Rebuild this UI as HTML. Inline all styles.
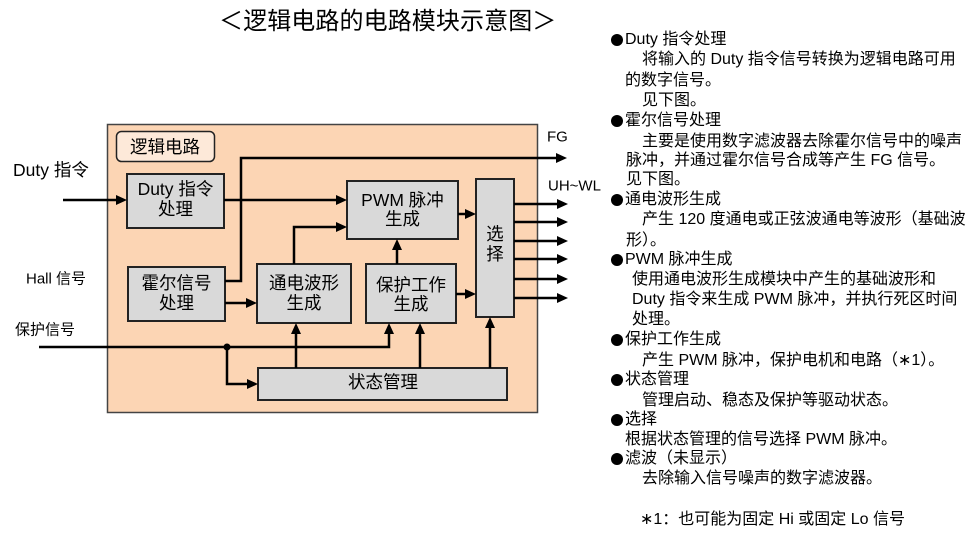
<!DOCTYPE html>
<html><head><meta charset="utf-8">
<style>
html,body{margin:0;padding:0;background:#fff;}
body{width:972px;height:546px;position:relative;overflow:hidden;font-family:"Liberation Sans","Noto Sans CJK SC",sans-serif;color:#000;}
.t{position:absolute;font-size:16px;line-height:20px;white-space:nowrap;letter-spacing:0;}
.b{position:absolute;width:12px;height:12px;border-radius:50%;background:#000;}
#title{position:absolute;left:219px;top:6px;font-size:24px;line-height:32px;letter-spacing:0.1px;white-space:nowrap;}
svg{position:absolute;left:0;top:0;}
</style></head><body>
<div id="title">＜逻辑电路的电路模块示意图＞</div>

<svg width="972" height="546" viewBox="0 0 972 546" xmlns="http://www.w3.org/2000/svg" font-family="Liberation Sans, Noto Sans CJK SC, sans-serif">
  <!-- outer box -->
  <rect x="107.5" y="124.5" width="430" height="288" fill="#fcd5b4" stroke="#444" stroke-width="1.5"/>
  <!-- label -->
  <rect x="116.5" y="131.5" width="98" height="30" rx="5" fill="#fde9d9" stroke="#222" stroke-width="1.5"/>
  <text x="165" y="147" font-size="17.5" text-anchor="middle" dominant-baseline="central">逻辑电路</text>

  <g fill="#d9d9d9" stroke="#222" stroke-width="2">
    <rect x="127" y="174" width="97" height="54"/>
    <rect x="128" y="267" width="97" height="54"/>
    <rect x="257" y="264" width="94" height="59"/>
    <rect x="347" y="181" width="111" height="58"/>
    <rect x="366" y="264" width="90" height="59"/>
    <rect x="476" y="179" width="38" height="138"/>
    <rect x="258" y="368" width="249" height="32"/>
  </g>

  <g font-size="17.5" text-anchor="middle" dominant-baseline="central">
    <text x="175.5" y="189">Duty 指令</text>
    <text x="175.5" y="209">处理</text>
    <text x="176.5" y="283">霍尔信号</text>
    <text x="176.5" y="303">处理</text>
    <text x="304" y="283">通电波形</text>
    <text x="304" y="303">生成</text>
    <text x="402.5" y="200">PWM 脉冲</text>
    <text x="402.5" y="219">生成</text>
    <text x="411" y="285">保护工作</text>
    <text x="411" y="304">生成</text>
    <text x="495" y="234">选</text>
    <text x="495" y="254">择</text>
    <text x="383" y="382">状态管理</text>
  </g>

  <!-- external labels -->
  <text x="13" y="170" font-size="17.5" dominant-baseline="central">Duty 指令</text>
  <text x="26" y="279" font-size="15" dominant-baseline="central">Hall 信号</text>
  <text x="15" y="330" font-size="15" dominant-baseline="central">保护信号</text>
  <text x="547" y="137" font-size="15" dominant-baseline="central">FG</text>
  <text x="548" y="186" font-size="15" dominant-baseline="central">UH~WL</text>

  <!-- lines -->
  <g fill="none" stroke="#000" stroke-width="2.5">
    <polyline points="63,200 118,200"/>
    <polyline points="224,200 338,200"/>
    <polyline points="225,281 241,281 241,158 558,158"/>
    <polyline points="225,303 248,303"/>
    <polyline points="294,264 294,227 338,227"/>
    <polyline points="397,264 397,248"/>
    <polyline points="458,214 467,214"/>
    <polyline points="456,294 467,294"/>
    <polyline points="514,204 559,204"/>
    <polyline points="514,222 559,222"/>
    <polyline points="514,241 559,241"/>
    <polyline points="514,259 559,259"/>
    <polyline points="514,279 559,279"/>
    <polyline points="514,298 559,298"/>
    <polyline points="39,347 389,347 389,332"/>
    <polyline points="227,347 227,384 249,384"/>
    <polyline points="296,368 296,332"/>
    <polyline points="420,368 420,332"/>
    <polyline points="490,368 490,326"/>
  </g>
  <circle cx="227" cy="347" r="3.5" fill="#000"/>

  <!-- arrowheads -->
  <g fill="#000">
    <polygon points="127,200 116,195 116,205"/>
    <polygon points="347,200 336,195 336,205"/>
    <polygon points="567,158 556,153 556,163"/>
    <polygon points="257,303 246,298 246,308"/>
    <polygon points="347,227 336,222 336,232"/>
    <polygon points="476,214 465,209 465,219"/>
    <polygon points="476,294 465,289 465,299"/>
    <polygon points="568,204 557,199 557,209"/>
    <polygon points="568,222 557,217 557,227"/>
    <polygon points="568,241 557,236 557,246"/>
    <polygon points="568,259 557,254 557,264"/>
    <polygon points="568,279 557,274 557,284"/>
    <polygon points="568,298 557,293 557,303"/>
    <polygon points="258,384 247,379 247,389"/>
    <polygon points="397,239 392,250 402,250"/>
    <polygon points="389,323 384,334 394,334"/>
    <polygon points="296,323 291,334 301,334"/>
    <polygon points="420,323 415,334 425,334"/>
    <polygon points="490,317 485,328 495,328"/>
  </g>
</svg>

<!-- right-side description -->
<div class="b" style="left:611px;top:34px"></div>
<div class="t" style="left:625px;top:30px">Duty 指令处理</div>
<div class="t" style="left:642px;top:50px">将输入的 Duty 指令信号转换为逻辑电路可用</div>
<div class="t" style="left:625px;top:71px">的数字信号。</div>
<div class="t" style="left:642px;top:91px">见下图。</div>

<div class="b" style="left:611px;top:115px"></div>
<div class="t" style="left:625px;top:111px">霍尔信号处理</div>
<div class="t" style="left:642px;top:132px">主要是使用数字滤波器去除霍尔信号中的噪声</div>
<div class="t" style="left:626px;top:151px">脉冲，并通过霍尔信号合成等产生 FG 信号。</div>
<div class="t" style="left:626px;top:170px">见下图。</div>

<div class="b" style="left:611px;top:194px"></div>
<div class="t" style="left:625px;top:190px">通电波形生成</div>
<div class="t" style="left:642px;top:210px">产生 120 度通电或正弦波通电等波形（基础波</div>
<div class="t" style="left:626px;top:231px">形）。</div>

<div class="b" style="left:611px;top:254px"></div>
<div class="t" style="left:625px;top:250px">PWM 脉冲生成</div>
<div class="t" style="left:632px;top:270px">使用通电波形生成模块中产生的基础波形和</div>
<div class="t" style="left:632px;top:290px">Duty 指令来生成 PWM 脉冲，并执行死区时间</div>
<div class="t" style="left:632px;top:310px">处理。</div>

<div class="b" style="left:611px;top:334px"></div>
<div class="t" style="left:625px;top:330px">保护工作生成</div>
<div class="t" style="left:642px;top:351px">产生 PWM 脉冲，保护电机和电路（∗1）。</div>

<div class="b" style="left:611px;top:374px"></div>
<div class="t" style="left:625px;top:370px">状态管理</div>
<div class="t" style="left:642px;top:391px">管理启动、稳态及保护等驱动状态。</div>

<div class="b" style="left:611px;top:414px"></div>
<div class="t" style="left:625px;top:410px">选择</div>
<div class="t" style="left:625px;top:430px">根据状态管理的信号选择 PWM 脉冲。</div>

<div class="b" style="left:611px;top:453px"></div>
<div class="t" style="left:625px;top:449px">滤波（未显示）</div>
<div class="t" style="left:642px;top:469px">去除输入信号噪声的数字滤波器。</div>

<div class="t" style="left:640px;top:510px">∗1：也可能为固定 Hi 或固定 Lo 信号</div>
</body></html>
